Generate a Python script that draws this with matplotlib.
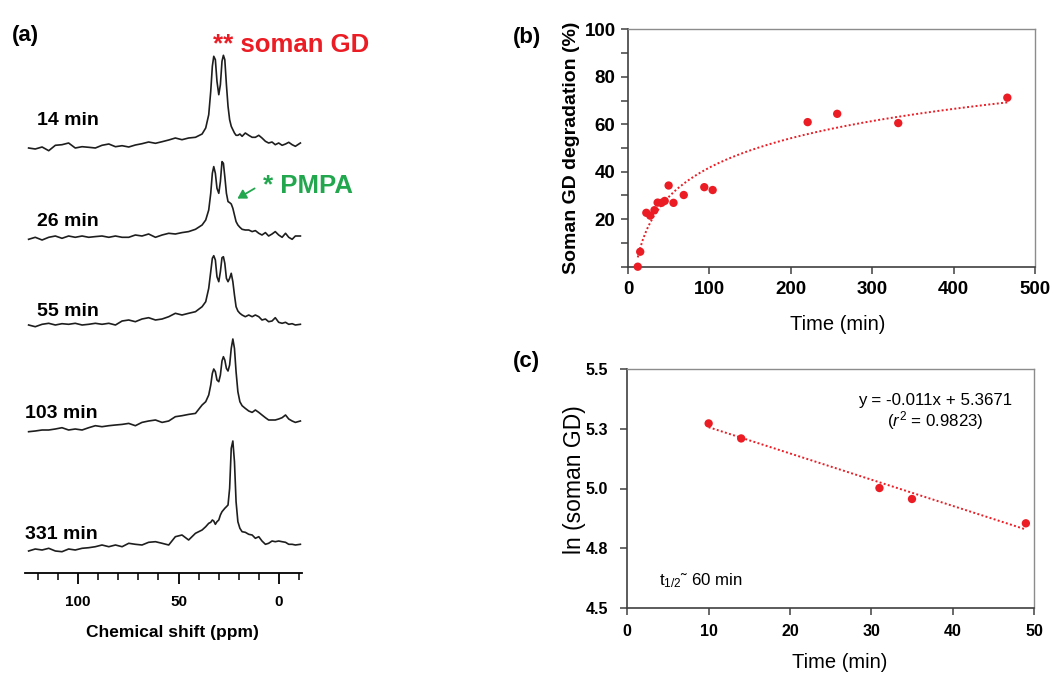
import numpy as np
import matplotlib
matplotlib.use("Agg")
import matplotlib.pyplot as plt
from matplotlib.ticker import MultipleLocator

plt.rcParams['font.family'] = ['Liberation Sans', 'DejaVu Sans']
plt.rcParams['mathtext.fontset'] = 'custom'
plt.rcParams['mathtext.rm'] = 'Liberation Sans'
plt.rcParams['mathtext.it'] = 'Liberation Sans:italic'
plt.rcParams['mathtext.bf'] = 'Liberation Sans:bold'

# ------------------------
# (a) spectres 31P, intensite en px au dessus de la ligne de base
ppm = [124.6, 121.3, 117.9, 114.6, 111.3, 108.0, 104.7, 101.4, 98.0, 94.7,
       91.4, 88.1, 84.7, 81.4, 78.1, 74.8, 71.5, 68.2, 64.9, 61.5,
       58.2, 54.9, 51.6, 48.3, 45.0, 41.6, 38.3, 36.5, 35.0, 34.0,
       33.2, 32.5, 31.7, 30.9, 30.0, 29.2, 28.4, 27.7, 27.0, 26.2,
       25.4, 24.6, 23.8, 23.0, 22.2, 21.4, 20.5, 19.5, 18.4, 16.8,
       15.1, 13.4, 11.8, 10.1, 8.5, 6.8, 5.2, 3.5, 1.9, 0.2,
       -1.5, -3.2, -4.8, -6.5, -8.1, -10.6]

spec_14 = [0, -1, 1, -2.7, 2.7, 3.3, 5, 0, 1.3, 0.7,
           0, 2.7, 4, 1.3, 2.3, 1, 3, 4.3, 6, 4.7,
           6.3, 8, 10, 8.3, 10, 10.7, 14, 20, 33.3, 56.7,
           81.7, 91.7, 88.3, 66.7, 53.3, 63.3, 86.7, 92.7, 88.3, 63.3,
           41.7, 28.3, 21.7, 18.3, 15, 12.7, 12.7, 14, 11.7, 15,
           12.7, 10.7, 10.7, 12.7, 10, 6.7, 5, 6, 3.3, 5,
           2.7, 4, 5.7, 3.3, 1.7, 5]
spec_26 = [-1, 1, -1.7, 1, 2.3, 0, 2.3, 1, 2.3, 1,
           1.7, 2.3, 1, 2.3, 1, 1, 3.3, 2.3, 4.3, 1,
           3.3, 5, 4.3, 5.7, 6.7, 9, 13.3, 18.3, 28.3, 45,
           65, 71.7, 65, 50, 45, 56.7, 76.7, 75, 61.7, 45,
           36.7, 35.7, 34.3, 30, 23.3, 16.7, 13.3, 11, 9, 8.3,
           8.3, 6.7, 7.7, 5, 3.3, 5.7, 2.3, 4.3, 6.7, 3.3,
           1, 5, 1, -1, 2.3, 2.3]
spec_55 = [0, -1.7, 0.7, 1.7, 0, 1.3, 0.7, 1.7, 0, 0.7,
           1.7, 0.7, 1.7, 0, 4, 5, 3.3, 6, 7.3, 5,
           6, 8.3, 11.7, 10, 11.7, 13.3, 18.3, 23.3, 36.7, 53.3,
           66.7, 69.3, 65, 48.3, 43.3, 53.3, 67.3, 68.3, 61.7, 46.7,
           43.3, 46.7, 51.7, 43.3, 30, 18.3, 14, 11.7, 10, 8.3,
           10, 8.3, 10, 8.3, 5, 6, 3.3, 4, 7.3, 2.7,
           1.7, 2.7, 0.7, 1.3, 0, 0.7]
spec_103 = [0, 0.7, 1.7, 1.7, 2.7, 4, 1.7, 2.7, 1.7, 4,
            6, 5, 6, 6.7, 7.3, 8.3, 6, 9.3, 10.7, 11.7,
            9.3, 10.7, 15, 16, 17.3, 18.3, 26.7, 30, 36.7, 46.7,
            58.3, 62.7, 60, 51.7, 50, 56.7, 70.7, 75, 71.7, 63.3,
            60.7, 66.7, 83.3, 92.7, 83.3, 60, 40, 30, 26, 23.3,
            20.7, 19.3, 21.7, 19.3, 16.7, 14, 11.7, 11.7, 11.7, 12.7,
            14, 16.7, 12.7, 10.7, 9.3, 10.7]
spec_331 = [-1, 1, 0, 1.7, -1, -1.7, 1, 0, 1.7, 2.3,
            3.3, 5, 3.3, 5, 3.3, 6.7, 5.7, 5, 7.7, 8.3,
            6.7, 5, 13.3, 15, 10, 16.7, 20, 23.3, 26.7, 27.7,
            30, 29, 25.7, 28.3, 30, 35, 38.3, 40, 41.7, 43.3,
            45, 61.7, 101.7, 109, 88.3, 48.3, 28.3, 21.7, 18.3, 17.7,
            15.7, 15, 11.7, 13.3, 9, 5.7, 6.7, 9, 8.3, 9,
            8.3, 7.7, 5.7, 5.7, 5, 5.7]
spectres = [spec_14, spec_26, spec_55, spec_103, spec_331]
noms_spectres = ["14 min", "26 min", "55 min", "103 min", "331 min"]

# (b) degradation du soman GD
temps_b = [12, 15, 22.5, 27.3, 32.5, 36.4, 41.2, 45.1, 49.9, 55.9,
           68.5, 93.7, 104, 220.7, 257, 332, 466]
degr_b = [0, 6.3, 22.7, 21.5, 23.8, 27.0, 26.9, 27.7, 34.2, 26.9,
          30.2, 33.5, 32.3, 60.9, 64.4, 60.5, 71.2]
yticks_b = [0, 10, 20, 30, 40, 50, 60, 70, 80, 90, 100]
ylabels_b = ["", "", "20", "", "40", "", "60", "", "80", "", "100"]

# (c) ln(soman GD)
temps_c = [10, 14, 31, 35, 49]
ln_c = [5.273, 5.21, 5.002, 4.956, 4.854]
pente_c, ordo_c = -0.011, 5.3671
yticks_c = [4.5, 4.75, 5.0, 5.25, 5.5]
ylabels_c = ["4.5", "4.8", "5.0", "5.3", "5.5"]

ROUGE = "#ec1c24"
VERT = "#22a64e"
W, H = 1053, 673


def box(l, t, r, b):
    return [l / W, 1 - b / H, (r - l) / W, (b - t) / H]


def fxy(x, y):
    return (x / W, 1 - y / H)


fig = plt.figure(figsize=(W / 100, H / 100), dpi=100)

# ------------------------ (a)
ax_a = fig.add_axes(box(25, 40, 302, 573))
offsets = [425, 334.7, 248, 141.3, 23]
for h, off in zip(spectres, offsets):
    ax_a.plot(ppm, np.array(h) + off, color="#1e1e1e", lw=1.2)
ax_a.set_xlim(126.4, -11.4)
ax_a.set_ylim(0, 533)
for s in ["left", "right", "top"]:
    ax_a.spines[s].set_visible(False)
ax_a.spines["bottom"].set_linewidth(1.3)
ax_a.set_yticks([])
ax_a.set_xticks([100, 50, 0])
ax_a.xaxis.set_minor_locator(MultipleLocator(10))
ax_a.tick_params(axis="x", which="major", length=8, width=1.3, pad=8, labelsize=11)
ax_a.tick_params(axis="x", which="minor", length=5, width=1.1)
plt.setp(ax_a.get_xticklabels(), fontweight="bold")
ax_a.set_xlabel("Chemical shift (ppm)", fontsize=12.5, fontweight="bold")
ax_a.xaxis.label.set_va("center")
ax_a.xaxis.set_label_coords((172 - 25) / 277, (573 - 633) / 533)

pos_noms = [(37, 125), (37, 226), (37, 316), (25, 418), (25, 539)]
for nom, (x, y) in zip(noms_spectres, pos_noms):
    fig.text(*fxy(x, y), nom, fontsize=14, fontweight="bold", va="baseline")

fig.text(*fxy(12, 35), "(a)", fontsize=16, fontweight="bold", va="center")
fig.text(*fxy(213, 52), "** soman GD", fontsize=18.5, fontweight="bold",
         color=ROUGE, va="baseline")
fig.text(*fxy(263, 193), "* PMPA", fontsize=18.5, fontweight="bold",
         color=VERT, va="baseline")
fig.patches.append(matplotlib.patches.FancyArrowPatch(
    fxy(257, 187), fxy(235, 200), transform=fig.transFigure,
    arrowstyle="-|>,head_length=5,head_width=3", color=VERT, lw=1.3))


def style_cadre(ax):
    for s in ["top", "right"]:
        ax.spines[s].set_color("#8c8c8c")
        ax.spines[s].set_linewidth(1.0)
    for s in ["left", "bottom"]:
        ax.spines[s].set_color("#404040")
        ax.spines[s].set_linewidth(1.2)


# ------------------------ (b)
ax_b = fig.add_axes(box(628, 29.3, 1035, 266.7))
style_cadre(ax_b)
tb = np.array(temps_b)
a, b = np.polyfit(np.log(tb), np.array(degr_b), 1)
xf = np.linspace(tb.min(), tb.max(), 300)
ax_b.plot(xf, a * np.log(xf) + b, color=ROUGE, lw=1.4, ls=(0, (1, 1.2)))
ax_b.scatter(temps_b, degr_b, s=36, color=ROUGE, zorder=3, clip_on=False,
             edgecolors="none")
ax_b.set_xlim(0, 500)
ax_b.set_ylim(0, 100)
ax_b.set_xticks(range(0, 501, 100))
ax_b.set_yticks(yticks_b)
ax_b.set_yticklabels(ylabels_b)
ax_b.tick_params(axis="both", length=5, width=1.1, color="#404040", labelsize=13.5)
ax_b.tick_params(axis="x", pad=5)
ax_b.tick_params(axis="y", pad=4)
plt.setp(ax_b.get_xticklabels() + ax_b.get_yticklabels(), fontweight="bold")
ax_b.set_ylabel("Soman GD degradation (%)", fontsize=14, fontweight="bold")
ax_b.yaxis.label.set_va("center")
ax_b.yaxis.set_label_coords((572 - 628) / 407, 0.5)
ax_b.set_xlabel("Time (min)", fontsize=14.5)
ax_b.xaxis.label.set_va("center")
ax_b.xaxis.set_label_coords((838 - 628) / 407, (266.7 - 325) / 237.4)
fig.text(*fxy(513, 37), "(b)", fontsize=16, fontweight="bold", va="center")

# ------------------------ (c)
ax_c = fig.add_axes(box(627.3, 369.3, 1034, 607.7))
style_cadre(ax_c)
xl = np.array([temps_c[0], temps_c[-1]])
ax_c.plot(xl, pente_c * xl + ordo_c, color=ROUGE, lw=1.4, ls=(0, (1, 1.2)))
ax_c.scatter(temps_c, ln_c, s=36, color=ROUGE, zorder=3, clip_on=False,
             edgecolors="none")
ax_c.set_xlim(0, 50)
ax_c.set_ylim(4.5, 5.5)
ax_c.set_xticks(range(0, 51, 10))
ax_c.set_yticks(yticks_c)
ax_c.set_yticklabels(ylabels_c)
ax_c.tick_params(axis="both", length=5, width=1.1, color="#404040", labelsize=11.5)
ax_c.tick_params(axis="x", pad=7)
ax_c.tick_params(axis="y", pad=9)
plt.setp(ax_c.get_xticklabels() + ax_c.get_yticklabels(), fontweight="bold")
ax_c.set_ylabel("ln (soman GD)", fontsize=16.5)
ax_c.yaxis.label.set_va("center")
ax_c.yaxis.set_label_coords((575 - 627.3) / 406.7, (607.7 - 480) / 238.4)
ax_c.set_xlabel("Time (min)", fontsize=14.5)
ax_c.xaxis.label.set_va("center")
ax_c.xaxis.set_label_coords((840 - 627.3) / 406.7, (607.7 - 662) / 238.4)

fig.text(*fxy(935, 400), "y = -0.011x + 5.3671", fontsize=12.2, ha="center", va="center")
fig.text(*fxy(935, 421), "($\\mathit{r}^{2}$ = 0.9823)", fontsize=12.2, ha="center", va="center")
fig.text(*fxy(659, 581), "t$_{1/2}$\u02dc 60 min", fontsize=12.2, va="center")
fig.text(*fxy(513, 362), "(c)", fontsize=16, fontweight="bold", va="center")

fig.savefig("out.png", dpi=100)
